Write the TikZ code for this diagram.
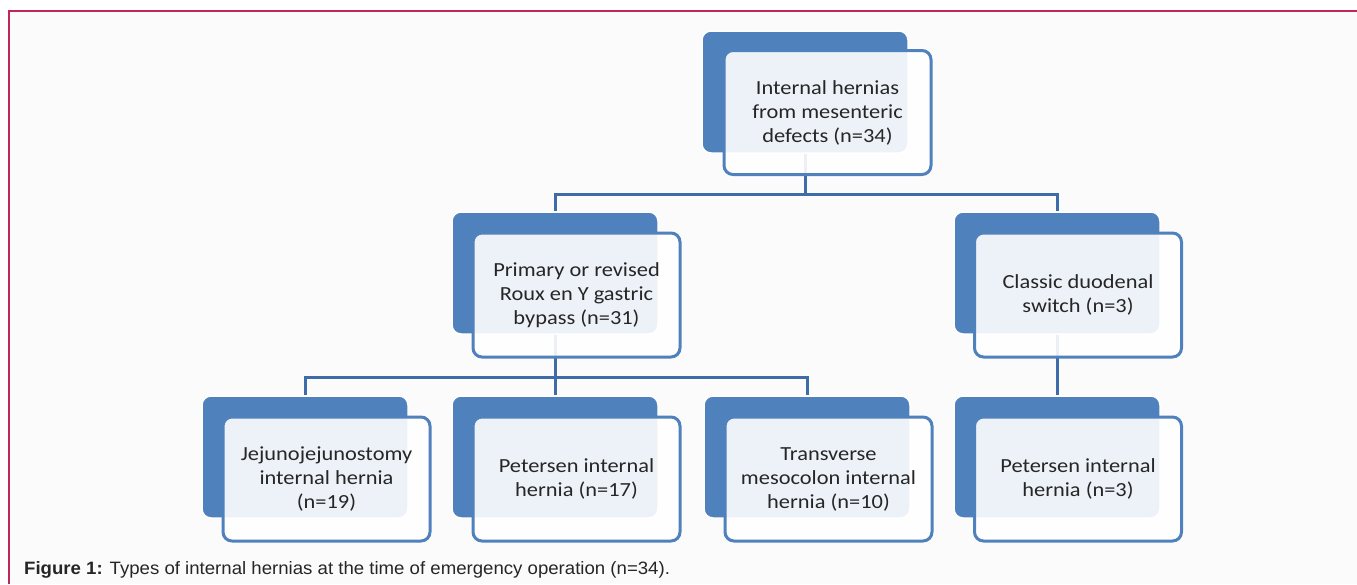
\documentclass[tikz,border=0pt]{standalone}
\usepackage{fontspec}
\setmainfont{Liberation Sans}
\newfontfamily\boxfont[FakeStretch=1.12]{Carlito}
\newfontfamily\capfont[FakeStretch=1.04]{Liberation Sans}
\definecolor{bluebox}{HTML}{4F81BD}
\definecolor{connblue}{HTML}{3E6CA8}
\definecolor{txt}{HTML}{262626}
\definecolor{framered}{HTML}{C0285A}
\definecolor{pagebg}{HTML}{FCFBFC}
\tikzset{
  backbox/.style={draw=white, line width=1.5pt, fill=bluebox, rounded corners=9pt,
    minimum width=206pt, minimum height=122pt, inner sep=0pt},
  frontbox/.style={draw=bluebox, line width=3pt, fill=white, fill opacity=0.9, text opacity=1,
    rounded corners=9pt, minimum width=207pt, minimum height=124pt, inner sep=0pt,
    align=center, text=txt, font=\boxfont\fontsize{20}{24}\selectfont},
  conn/.style={draw=connblue, line width=3pt},
}
\begin{document}
\begin{tikzpicture}[x=1pt,y=-1pt]
\useasboundingbox (0,0) rectangle (1357,584);
\fill[pagebg] (9,11) rectangle (1357,584);
\draw[framered, line width=2pt] (9,584) -- (9,11) -- (1357,11);
% back boxes
\node[backbox] (b1) at (805,92) {};
\node[backbox] (b2) at (555,273) {};
\node[backbox] (b3) at (1057,273) {};
\node[backbox] (b4) at (305,457) {};
\node[backbox] (b5) at (555,457) {};
\node[backbox] (b6) at (807,457) {};
\node[backbox] (b7) at (1057,457) {};
% connectors
\coordinate (j1) at (805,194);
\coordinate (j2) at (555,377);
\draw[conn] (b1.south) -- (j1) -| (b2.north);
\draw[conn] (j1) -| (b3.north);
\draw[conn] (b2.south) -- (j2) -| (b4.north);
\draw[conn] (j2) -- (b5.north);
\draw[conn] (j2) -| (b6.north);
\draw[conn] (b3.south) -- (b7.north);
% front boxes
\node[frontbox] (f1) at (827.5,112.5) {Internal hernias\\from mesenteric\\defects (n=34)};
\node[frontbox] (f2) at (576.5,295) {Primary or revised\\Roux en Y gastric\\bypass (n=31)};
\node[frontbox] (f3) at (1078,295) {Classic duodenal\\switch (n=3)};
\node[frontbox] (f4) at (326.5,479) {Jejunojejunostomy\\internal hernia\\(n=19)};
\node[frontbox] (f5) at (576.5,479) {Petersen internal\\hernia (n=17)};
\node[frontbox] (f6) at (828.5,479) {Transverse\\mesocolon internal\\hernia (n=10)};
\node[frontbox] (f7) at (1078,479) {Petersen internal\\hernia (n=3)};
% caption
\node[anchor=base west, inner sep=0pt, font=\capfont\fontsize{17.9}{21}\selectfont, text=txt] (cap) at (24,574)
  {\textbf{Figure 1:} Types of internal hernias at the time of emergency operation (n=34).};
\end{tikzpicture}
\end{document}
